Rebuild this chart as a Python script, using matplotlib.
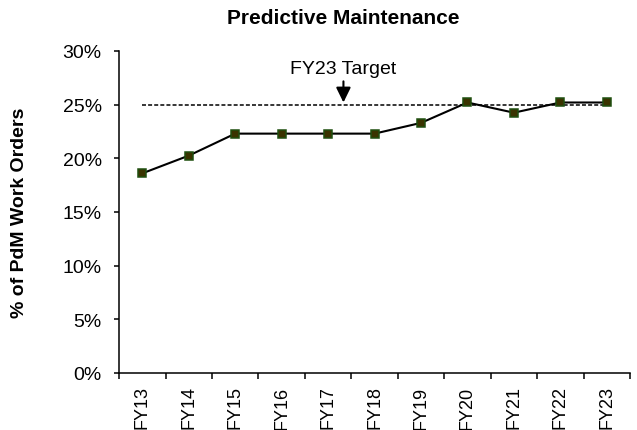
import matplotlib
matplotlib.use("Agg")
import matplotlib.pyplot as plt
import numpy as np
from matplotlib.ticker import FixedLocator, PercentFormatter

#
# --- chart data
#
YEARS = ["FY13", "FY14", "FY15", "FY16", "FY17", "FY18",
         "FY19", "FY20", "FY21", "FY22", "FY23"]
PDM_PCT = [18.6, 20.25, 22.3, 22.3, 22.3, 22.3, 23.3, 25.2, 24.25, 25.2, 25.2]
TARGET = 25.0
TARGET_LABEL = "FY23 Target"
Y_TICKS = [0, 5, 10, 15, 20, 25, 30]

plt.rcParams["font.family"] = ["Liberation Sans", "DejaVu Sans"]

fig = plt.figure(figsize=(6.37, 4.31), dpi=100)
ax = fig.add_axes([0.187, 0.1323, 0.802, 0.7471])

x = np.arange(len(YEARS))
ax.plot(x, PDM_PCT, color="black", lw=1.5, marker="s", markersize=6.3,
        markerfacecolor="#3a3300", markeredgecolor="#1f4f10", markeredgewidth=1.1,
        zorder=3)

#
# --- target line and annotation
#
ax.plot([x[0], x[-1]], [TARGET, TARGET], color="black", lw=1.1,
        linestyle=(0, (2.6, 1.4)), zorder=2)
arrow_x = 4.33
ax.annotate(TARGET_LABEL, xy=(arrow_x, TARGET + 0.2), xytext=(arrow_x, 28.35),
            ha="center", va="center", fontsize=14,
            arrowprops=dict(arrowstyle="-|>,head_length=0.45,head_width=0.22",
                            color="black", lw=1.5,
                            mutation_scale=20, shrinkA=1, shrinkB=0))

ax.set_xlim(-0.5, len(YEARS) - 0.5)
ax.set_ylim(0, 30)
ax.set_xticks(x)
ax.set_xticklabels(YEARS, rotation=90, fontsize=13)
ax.xaxis.set_minor_locator(FixedLocator(np.arange(-0.5, len(YEARS), 1.0)))
ax.tick_params(axis="x", which="major", length=0, pad=9)
ax.tick_params(axis="x", which="minor", length=4, width=1.1, direction="out")
ax.set_yticks(Y_TICKS)
ax.yaxis.set_major_formatter(PercentFormatter(decimals=0))
ax.tick_params(axis="y", length=3.5, width=1.1, labelsize=14, pad=9)

for side in ["top", "right"]:
    ax.spines[side].set_visible(False)
for side in ["left", "bottom"]:
    ax.spines[side].set_linewidth(1.1)

ax.set_ylabel("% of PdM Work Orders", fontsize=14, fontweight="bold")
ax.yaxis.set_label_coords(-0.178, 0.5)
fig.text(0.539, 0.956, "Predictive Maintenance", ha="center", va="center",
         fontsize=15, fontweight="bold")

fig.savefig("out.png", dpi=100)
